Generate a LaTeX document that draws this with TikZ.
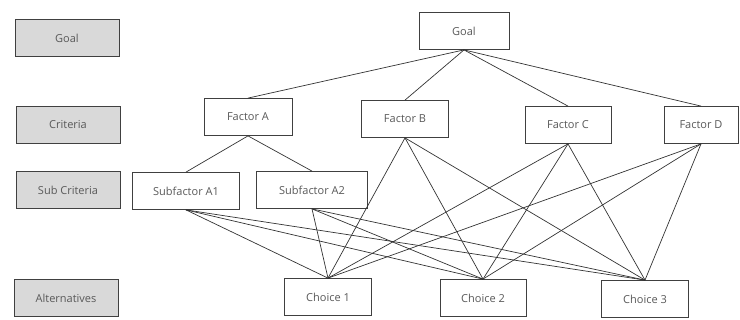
\documentclass[tikz,border=0pt]{standalone}
\usepackage{fontspec}
\setmainfont{Open Sans}
\usepackage{xcolor}
\usetikzlibrary{positioning}

\definecolor{boxline}{HTML}{404040}
\definecolor{labelfill}{HTML}{D9D9D9}
\definecolor{textgray}{HTML}{595959}

\begin{document}
\begin{tikzpicture}[
    x=1pt, y=-1pt,
    box/.style={rectangle, draw=boxline, line width=0.8pt, minimum height=37pt, align=center, font=\fontsize{11}{13}\selectfont, text=textgray, fill=white},
    level/.style={box, fill=labelfill, minimum width=104pt},
    link/.style={draw=black!80, line width=0.7pt}
]
\useasboundingbox (0,0) rectangle (740,320);

% Level labels on the left
\node[level] (lgoal) at (67,38)  {Goal};
\node[level] (lcrit) at (68,125) {Criteria};
\node[level] (lsub)  at (68,190) {Sub Criteria};
\node[level] (lalt)  at (66,298) {Alternatives};

% Hierarchy
\node[box, minimum width=90pt] (goal) at (464,31) {Goal};

\node[box, minimum width=88pt] (fa) at (248,117) {Factor A};
\node[box, minimum width=87pt] (fb) at (405,119) {Factor B};
\node[box, minimum width=86pt] (fc) at (568,125) {Factor C};
\node[box, minimum width=74pt] (fd) at (701,125) {Factor D};

\node[box, minimum width=107pt] (sa1) at (186,191) {Subfactor A1};
\node[box, minimum width=111pt] (sa2) at (312,190) {Subfactor A2};

\node[box, minimum width=87pt] (c1) at (328,297) {Choice 1};
\node[box, minimum width=86pt] (c2) at (483,298) {Choice 2};
\node[box, minimum width=87pt] (c3) at (645,299) {Choice 3};

% Goal to criteria
\foreach \f in {fa,fb,fc,fd}
  \draw[link] (goal.south) -- (\f.north);

% Factor A to its subfactors
\draw[link] (fa.south) -- (sa1.north);
\draw[link] (fa.south) -- (sa2.north);

% Everything else to the choices
\foreach \s in {fb,fc,fd,sa1,sa2}
  \foreach \c in {c1,c2,c3}
    \draw[link] (\s.south) -- (\c.north);

\end{tikzpicture}
\end{document}
